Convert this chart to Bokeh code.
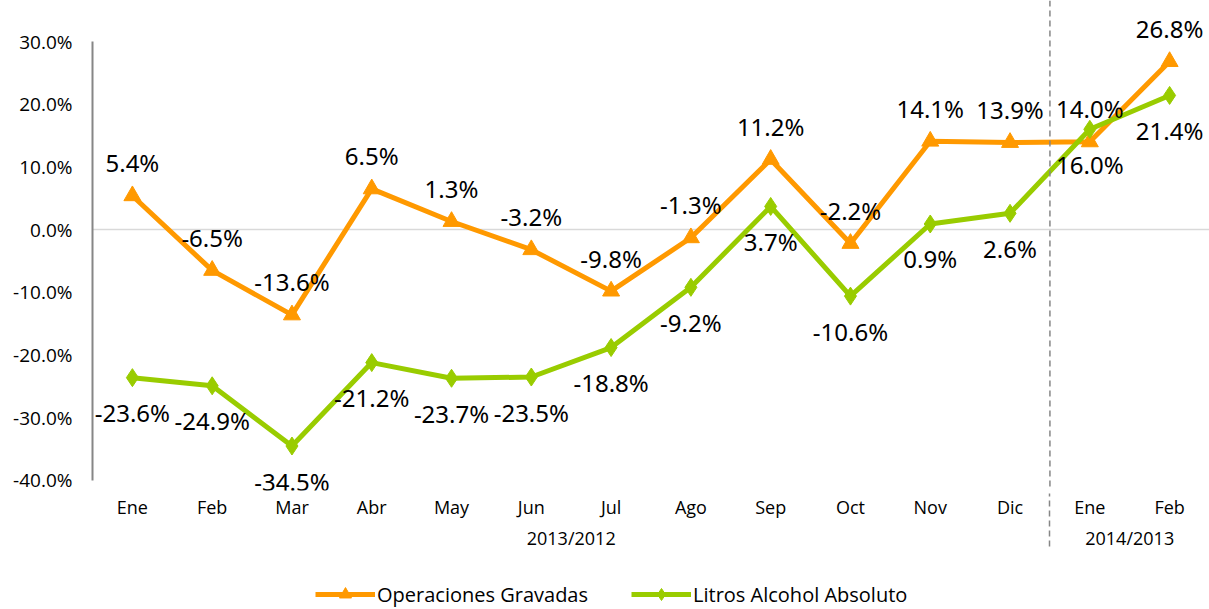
from bokeh.plotting import figure
from bokeh.layouts import column
from bokeh.models import (ColumnDataSource, FactorRange, Range1d, FixedTicker,
                          PrintfTickFormatter, Span, LabelSet, Label, Legend, LegendItem)
from bokeh.core.properties import value
from bokeh.embed import file_html
from bokeh.resources import INLINE

title_text = "Periodo/año actual vs. Periodo/año anterior"
groups = ["2013/2012"] * 12 + ["2014/2013"] * 2
months = ["Ene", "Feb", "Mar", "Abr", "May", "Jun", "Jul", "Ago", "Sep", "Oct", "Nov", "Dic", "Ene", "Feb"]
operaciones = [5.4, -6.5, -13.6, 6.5, 1.3, -3.2, -9.8, -1.3, 11.2, -2.2, 14.1, 13.9, 14.0, 26.8]
litros = [-23.6, -24.9, -34.5, -21.2, -23.7, -23.5, -18.8, -9.2, 3.7, -10.6, 0.9, 2.6, 16.0, 21.4]
y_ticks = [-40, -30, -20, -10, 0, 10, 20, 30]
series_names = ["Operaciones Gravadas", "Litros Alcohol Absoluto"]

ORANGE = "#FF9900"
GREEN = "#99CC00"

factors = list(zip(groups, months))
src = ColumnDataSource(dict(
    x=factors,
    op=operaciones,
    li=litros,
    op_txt=[f"{v:.1f}%" for v in operaciones],
    li_txt=[f"{v:.1f}%" for v in litros],
))


def make_range():
    return FactorRange(*factors, factor_padding=0, group_padding=0,
                       subgroup_padding=0, range_padding=0)


W, H1, H2 = 1209, 566, 43
p = figure(
    width=W, height=H1,
    x_range=make_range(),
    y_range=Range1d(-41.595, 36.538),
    output_backend="svg", toolbar_location=None,
    min_border_left=92, min_border_right=0, min_border_top=0, min_border_bottom=76,
)
p.outline_line_color = None
p.background_fill_color = "white"
p.border_fill_color = "white"

# y axis
yax = p.yaxis[0]
yax.bounds = (-40, 30)
yax.ticker = FixedTicker(ticks=y_ticks)
yax.formatter = PrintfTickFormatter(format="%.1f%%")
yax.axis_line_color = "#868686"
yax.axis_line_width = 2
yax.major_tick_line_color = None
yax.minor_tick_line_color = None
yax.major_tick_out = 0
yax.major_tick_in = 0
yax.major_label_standoff = 20
yax.major_label_text_font = "Open Sans"
yax.major_label_text_font_size = "19px"
yax.major_label_text_color = "#000000"

# x axis
xax = p.xaxis[0]
xax.axis_line_color = None
xax.major_tick_line_color = None
xax.minor_tick_line_color = None
xax.major_tick_out = 0
xax.major_tick_in = 0
xax.major_label_standoff = 4
xax.major_label_text_font = "Open Sans"
xax.major_label_text_font_size = "18px"
xax.major_label_text_color = "#000000"
xax.major_label_orientation = "horizontal"
xax.group_text_font = "Open Sans"
xax.group_text_font_size = "18px"
xax.group_text_font_style = "normal"
xax.group_text_color = "#000000"
xax.group_text_line_height = 1.9
xax.separator_line_color = "#868686"
xax.separator_line_width = 1.5
xax.separator_line_dash = "6 4"

# grid: only the zero line
p.xgrid.visible = False
p.ygrid.ticker = FixedTicker(ticks=[0])
p.ygrid.grid_line_color = "#D9D9D9"
p.ygrid.grid_line_width = 1.5

# dashed separator between years
p.add_layout(Span(location=12, dimension="height", line_color="#868686",
                  line_width=1.5, line_dash="6 4"))

# lines and markers
p.line("x", "op", source=src, line_color=ORANGE, line_width=5)
p.scatter("x", "op", source=src, marker="triangle", size=17,
          fill_color=ORANGE, line_color=ORANGE)
p.line("x", "li", source=src, line_color=GREEN, line_width=5)
p.scatter("x", "li", source=src, marker="diamond", size=18,
          fill_color=GREEN, line_color=GREEN)

# data labels
p.add_layout(LabelSet(x="x", y="op", text="op_txt", source=src, y_offset=33,
                      text_align="center", text_baseline="middle",
                      text_font=value("Noto Sans"), text_font_size="24px",
                      text_color="#000000"))
p.add_layout(LabelSet(x="x", y="li", text="li_txt", source=src, y_offset=-35,
                      text_align="center", text_baseline="middle",
                      text_font=value("Noto Sans"), text_font_size="24px",
                      text_color="#000000"))

# title (partly cut at the top, as in the source image)
p.add_layout(Label(x=592, y=H1 - 5, x_units="screen", y_units="screen",
                   text=title_text, text_align="center", text_baseline="alphabetic",
                   text_font="Open Sans", text_font_size="22px", text_color="#000000"))

# legend strip below the chart (its renderers sit outside the visible range)
p2 = figure(width=W, height=H2, x_range=make_range(), y_range=Range1d(1000, 1001),
            output_backend="svg", toolbar_location=None,
            min_border_left=92, min_border_right=0, min_border_top=0, min_border_bottom=0)
p2.axis.visible = False
p2.grid.visible = False
p2.outline_line_color = None
r1 = [p2.line("x", "op", source=src, line_color=ORANGE, line_width=5),
      p2.scatter("x", "op", source=src, marker="triangle", size=17,
                 fill_color=ORANGE, line_color=ORANGE)]
r2 = [p2.line("x", "li", source=src, line_color=GREEN, line_width=5),
      p2.scatter("x", "li", source=src, marker="diamond", size=18,
                 fill_color=GREEN, line_color=GREEN)]
legend = Legend(items=[LegendItem(label=series_names[0], renderers=r1),
                       LegendItem(label=series_names[1], renderers=r2)],
                orientation="horizontal", location=(223, 0),
                glyph_width=60, glyph_height=30, label_height=20, label_standoff=2,
                spacing=43, padding=0, margin=0,
                label_text_font="Open Sans", label_text_font_size="20px",
                label_text_color="#000000", label_text_baseline="middle",
                border_line_color=None, background_fill_alpha=0)
p2.add_layout(legend, "center")

layout = column(p, p2, spacing=0)
open("out.html", "w").write(file_html(layout, INLINE))
